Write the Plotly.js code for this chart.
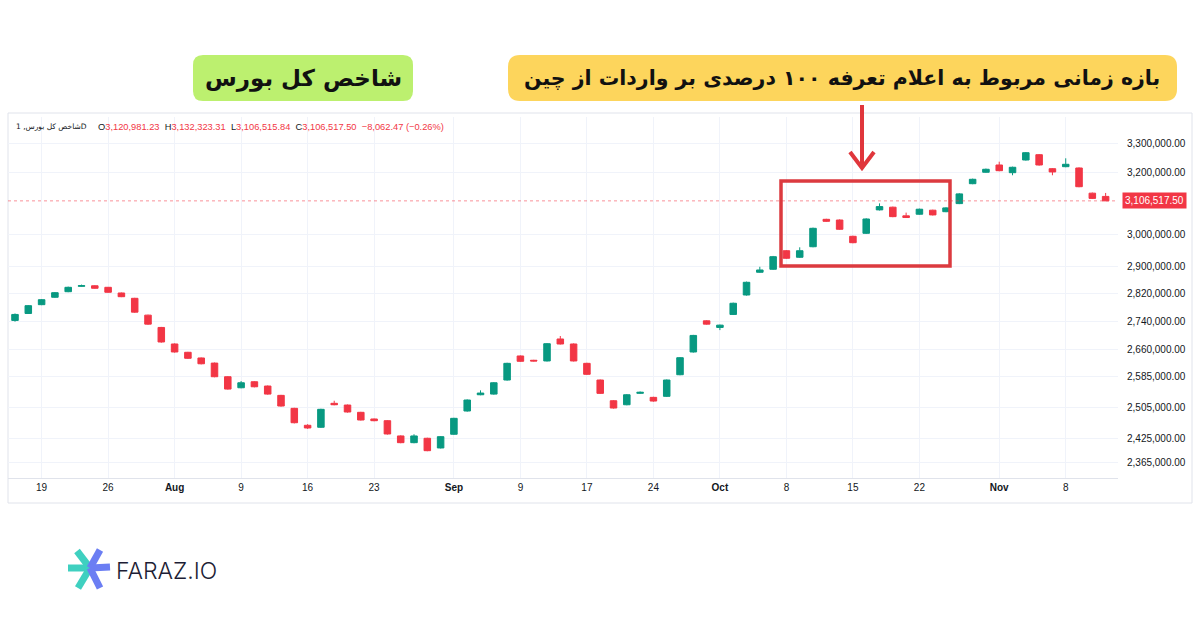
<!DOCTYPE html>
<html>
<head>
<meta charset="utf-8">
<script src="https://cdn.plot.ly/plotly-3.0.1.min.js"></script>
<style>html,body{margin:0;padding:0;background:#fff;}#chart{width:1200px;height:630px;}</style>
</head>
<body>
<div id="chart"></div>
<script>
// ---- data (daily candles, TEDPIX) ----
const dates = ['2025-07-15','2025-07-16','2025-07-19','2025-07-20','2025-07-21','2025-07-22','2025-07-23','2025-07-26','2025-07-27','2025-07-28','2025-07-29','2025-07-30','2025-08-02','2025-08-03','2025-08-04','2025-08-05','2025-08-06','2025-08-09','2025-08-10','2025-08-11','2025-08-12','2025-08-13','2025-08-16','2025-08-17','2025-08-18','2025-08-19','2025-08-20','2025-08-23','2025-08-25','2025-08-26','2025-08-27','2025-08-30','2025-08-31','2025-09-01','2025-09-02','2025-09-06','2025-09-07','2025-09-08','2025-09-09','2025-09-13','2025-09-14','2025-09-15','2025-09-16','2025-09-17','2025-09-20','2025-09-21','2025-09-22','2025-09-23','2025-09-24','2025-09-27','2025-09-28','2025-09-29','2025-09-30','2025-10-01','2025-10-04','2025-10-05','2025-10-06','2025-10-07','2025-10-08','2025-10-11','2025-10-12','2025-10-13','2025-10-14','2025-10-15','2025-10-18','2025-10-19','2025-10-20','2025-10-21','2025-10-22','2025-10-25','2025-10-26','2025-10-27','2025-10-28','2025-10-29','2025-11-01','2025-11-02','2025-11-03','2025-11-04','2025-11-05','2025-11-08','2025-11-09','2025-11-10','2025-11-11'];
const openV = [2742000,2762000,2787500,2809100,2825500,2841500,2843000,2838500,2821700,2806100,2757200,2722000,2675400,2652300,2636600,2622600,2585500,2555900,2572000,2560500,2535700,2501600,2457700,2452600,2514700,2510200,2491200,2473900,2469500,2430500,2413500,2424600,2400200,2434800,2494600,2537300,2539100,2576600,2642100,2630300,2628400,2689400,2675400,2621900,2576600,2521500,2511000,2541100,2530400,2533100,2590900,2653200,2740900,2722000,2759200,2815800,2883400,2892400,2949000,2928900,2961300,3047250,3045000,2993700,3003100,3077400,3086100,3058400,3063500,3076400,3071600,3097700,3162700,3200700,3225100,3199300,3241950,3259950,3212650,3219400,3215000,3131600,3120981.23];
const highV = [2762000,2786500,2804000,2824500,2840500,2846500,2844500,2839500,2823000,2807500,2758500,2723500,2677000,2653500,2638000,2624000,2587000,2573900,2573500,2562000,2537000,2503000,2460500,2500500,2521500,2511500,2492500,2475000,2471000,2432000,2434800,2426000,2430000,2477000,2525000,2549000,2571000,2623500,2643500,2631500,2678000,2697800,2677000,2623500,2578000,2523000,2539000,2546000,2532000,2578000,2639000,2701000,2742500,2730000,2793500,2855500,2900000,2933000,2951000,2959500,3021000,3049000,3047000,2995500,3050500,3098400,3088000,3068700,3081500,3078000,3086000,3131500,3179500,3213000,3236200,3219500,3269000,3262000,3214500,3247700,3217000,3133500,3132323.31];
const lowV = [2738500,2760500,2786000,2807500,2824000,2840500,2834500,2822500,2809500,2764000,2729500,2679000,2651500,2634000,2619000,2584000,2551000,2554500,2557000,2537500,2506000,2462500,2448500,2451000,2509500,2490500,2470000,2468000,2434000,2412000,2412000,2392000,2399000,2433500,2493000,2536000,2537500,2575000,2626000,2627000,2627000,2674000,2627000,2590500,2539500,2501000,2509500,2539500,2519000,2531500,2589500,2651500,2730000,2714400,2757500,2814000,2882000,2890500,2924000,2927000,2959500,3039000,3014000,2972000,3001000,3075500,3054000,3051500,3062000,3059500,3070000,3096000,3161000,3199000,3204000,3190700,3240000,3223000,3190700,3217500,3151000,3112500,3106515.84];
const closeV = [2759200,2784600,2802000,2822600,2838500,2843250,2835600,2823800,2810800,2765800,2731400,2681000,2653200,2635700,2620700,2585500,2552400,2569300,2558500,2539100,2507600,2464300,2450800,2499000,2511000,2492000,2471300,2469500,2435500,2413500,2430500,2393400,2428700,2475600,2523400,2541800,2569300,2621900,2627500,2628400,2676200,2675400,2628400,2592000,2541000,2502400,2537300,2543700,2520700,2576600,2637400,2699400,2731400,2728600,2791600,2853400,2890300,2930700,2925800,2949000,3018800,3040900,3015700,2973800,3048300,3088000,3055800,3053000,3079600,3061300,3083800,3129250,3177300,3210700,3206000,3217400,3266750,3225100,3201700,3227450,3152800,3114579.97,3106517.50];
const tickDates = ['2025-07-19','2025-07-26','2025-08-02','2025-08-09','2025-08-16','2025-08-23','2025-09-01','2025-09-09','2025-09-17','2025-09-24','2025-10-01','2025-10-08','2025-10-15','2025-10-22','2025-11-01','2025-11-08'];
const tickLabels = ['19','26','<b>Aug</b>','9','16','23','<b>Sep</b>','9','17','24','<b>Oct</b>','8','15','22','<b>Nov</b>','8'];
const yTickVals = [3300000,3200000,3000000,2900000,2820000,2740000,2660000,2585000,2505000,2425000,2365000];
const symbolText = 'شاخص کل بورس, 1D';
const titleGreen = 'شاخص کل بورس';
const titleYellow = 'بازه زمانی مربوط به اعلام تعرفه ۱۰۰ درصدی بر واردات از چین';
const logoText = 'FARAZ.IO';

// ---- geometry helpers ----
const L = 8, R = 1118, T = 117, B = 478;
const W = R - L, H = B - T;
const yRange = [6.36663, 6.53030];
const px = x => (x - L) / W;
const py = y => (B - y) / H;
function rr(x0, y0, x1, y1, r) {
  const X = px, Y = py;
  return `M${X(x0+r)},${Y(y0)} L${X(x1-r)},${Y(y0)} Q${X(x1)},${Y(y0)} ${X(x1)},${Y(y0+r)} L${X(x1)},${Y(y1-r)} Q${X(x1)},${Y(y1)} ${X(x1-r)},${Y(y1)} L${X(x0+r)},${Y(y1)} Q${X(x0)},${Y(y1)} ${X(x0)},${Y(y1-r)} L${X(x0)},${Y(y0+r)} Q${X(x0)},${Y(y0)} ${X(x0+r)},${Y(y0)} Z`;
}
const fmt = v => v.toLocaleString('en-US', {minimumFractionDigits: 2, maximumFractionDigits: 2});

const n = closeV.length;
const lastO = openV[n-1], lastH = highV[n-1], lastL = lowV[n-1], lastC = closeV[n-1];
const chg = lastC - closeV[n-2];
const pct = chg / closeV[n-2] * 100;
const lastY = (Math.log10(lastC) - yRange[0]) / (yRange[1] - yRange[0]);

const red = '#f23645', grn = '#089981';
const rv = s => `<span style="color:${red}">${s}</span>`;
const ohlcText = `O${rv(fmt(lastO))}  H${rv(fmt(lastH))}  L${rv(fmt(lastL))}  C${rv(fmt(lastC))}  ${rv((chg<0?'−':'+')+fmt(Math.abs(chg)) + ' (' + (pct<0?'−':'+') + Math.abs(pct).toFixed(2) + '%)')}`;

const trace = {
  type: 'candlestick', x: dates, open: openV, high: highV, low: lowV, close: closeV,
  increasing: {line: {color: grn, width: 1}, fillcolor: grn},
  decreasing: {line: {color: red, width: 1}, fillcolor: red},
  whiskerwidth: 0, hoverinfo: 'skip', showlegend: false
};

const shapes = [
  // panel border
  {type:'rect', xref:'paper', yref:'paper', x0:px(8), x1:px(1192), y0:py(113), y1:py(503), line:{color:'#e0e3eb', width:1}, layer:'below'},
  // last price dotted line
  {type:'line', xref:'paper', yref:'paper', x0:0, x1:1, y0:lastY, y1:lastY, line:{color:'rgba(242,54,69,0.55)', width:1, dash:'dot'}},
  // highlight rectangle
  {type:'rect', xref:'paper', yref:'paper', x0:px(781), x1:px(950), y0:py(181), y1:py(266), line:{color:'#dc3a3f', width:3.5}},
  // arrow
  {type:'path', xref:'paper', yref:'paper', path:`M${px(862)},${py(105)} L${px(862)},${py(167)} M${px(850)},${py(152)} L${px(862)},${py(168)} L${px(874)},${py(152)}`, line:{color:'#e0363c', width:4}},
  // title boxes
  {type:'path', xref:'paper', yref:'paper', path:rr(193,55,413,101,10), fillcolor:'#bcf06f', line:{width:0}},
  {type:'path', xref:'paper', yref:'paper', path:rr(508,55,1177,101,12), fillcolor:'#fdd55c', line:{width:0}},
  // logo icon
  {type:'line', xref:'paper', yref:'paper', x0:px(68), y0:py(568), x1:px(90), y1:py(568), line:{color:'#3fd0c0', width:7}},
  {type:'line', xref:'paper', yref:'paper', x0:px(77), y0:py(551), x1:px(90), y1:py(568), line:{color:'#3fd0c0', width:7}},
  {type:'line', xref:'paper', yref:'paper', x0:px(78), y0:py(588), x1:px(90), y1:py(568), line:{color:'#3fd0c0', width:7}},
  {type:'line', xref:'paper', yref:'paper', x0:px(100), y0:py(550), x1:px(90), y1:py(568), line:{color:'#6b7ef3', width:7}},
  {type:'line', xref:'paper', yref:'paper', x0:px(110), y0:py(567), x1:px(90), y1:py(568), line:{color:'#6b7ef3', width:7}},
  {type:'line', xref:'paper', yref:'paper', x0:px(100), y0:py(588), x1:px(90), y1:py(568), line:{color:'#6b7ef3', width:7}}
];

const annotations = [
  {xref:'paper', yref:'paper', x:px(14), y:py(127), xanchor:'left', yanchor:'middle', showarrow:false, text:symbolText, font:{family:'DejaVu Sans', size:7.5, color:'#131722'}},
  {xref:'paper', yref:'paper', x:px(96), y:py(127), xanchor:'left', yanchor:'middle', showarrow:false, text:ohlcText, font:{family:'Liberation Sans', size:9.3, color:'#131722'}},
  {xref:'paper', yref:'paper', x:px(1122), y:lastY, xanchor:'left', yanchor:'middle', showarrow:false, text:fmt(lastC), bgcolor:red, borderpad:2, font:{family:'Liberation Sans', size:10, color:'#ffffff'}},
  {xref:'paper', yref:'paper', x:px(303), y:py(79), xanchor:'center', yanchor:'middle', showarrow:false, text:'<b>'+titleGreen+'</b>', font:{family:'DejaVu Sans', size:23, color:'#111111'}},
  {xref:'paper', yref:'paper', x:px(842), y:py(78), xanchor:'center', yanchor:'middle', showarrow:false, text:'<b>'+titleYellow+'</b>', font:{family:'DejaVu Sans', size:20.5, color:'#111111'}},
  {xref:'paper', yref:'paper', x:px(114), y:py(571), xanchor:'left', yanchor:'middle', showarrow:false, text:logoText, font:{family:'Inter', size:23, color:'#1d1d35', weight:300}}
];

const layout = {
  width: 1200, height: 630,
  margin: {l: L, r: 1200 - R, t: T, b: 630 - B, pad: 0},
  paper_bgcolor: '#ffffff', plot_bgcolor: '#ffffff',
  showlegend: false,
  xaxis: {
    type: 'category', range: [-0.526, 82.93], rangeslider: {visible: false},
    tickmode: 'array', tickvals: tickDates, ticktext: tickLabels,
    showgrid: true, gridcolor: '#f0f3fa', gridwidth: 1, zeroline: false,
    showline: true, linecolor: '#e0e3eb', linewidth: 1, ticks: '',
    tickfont: {family: 'Liberation Sans', size: 10, color: '#131722'}, fixedrange: true
  },
  yaxis: {
    type: 'log', side: 'right', range: yRange,
    tickmode: 'array', tickvals: yTickVals, ticktext: yTickVals.map(fmt),
    showgrid: true, gridcolor: '#f0f3fa', gridwidth: 1, zeroline: false, showline: false, ticks: '',
    ticklabelstandoff: 8,
    tickfont: {family: 'Liberation Sans', size: 10, color: '#131722'}, fixedrange: true
  },
  shapes: shapes,
  annotations: annotations
};

Plotly.newPlot('chart', [trace], layout, {staticPlot: true, displayModeBar: false});
</script>
</body>
</html>
